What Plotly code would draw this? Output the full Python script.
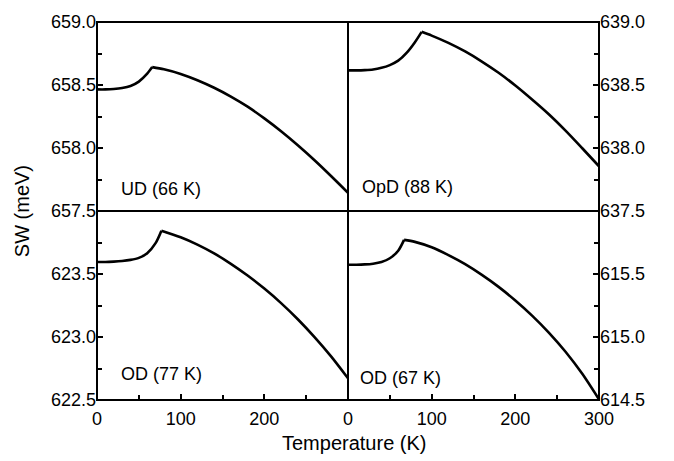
import plotly.graph_objects as go

# Spectral weight SW (meV) versus temperature (K) for four samples.
# Panels: UD (66 K), OpD (88 K), OD (77 K), OD (67 K)

temp_ud = [0, 10, 20, 30, 40, 50, 60, 66, 80, 100, 120, 140, 160, 180, 200, 220, 240, 260, 280, 300]
sw_ud = [658.465, 658.465, 658.468, 658.476, 658.492, 658.527, 658.590, 658.642, 658.625, 658.588,
         658.538, 658.478, 658.408, 658.328, 658.235, 658.133, 658.022, 657.903, 657.776, 657.645]

temp_opd = [0, 10, 20, 30, 40, 50, 60, 70, 80, 88, 100, 120, 140, 160, 180, 200, 220, 240, 260, 280, 300]
sw_opd = [638.616, 638.616, 638.618, 638.623, 638.636, 638.658, 638.693, 638.755, 638.840, 638.922, 638.892,
          638.834, 638.766, 638.686, 638.597, 638.496, 638.385, 638.268, 638.138, 637.998, 637.855]

temp_od77 = [0, 10, 20, 30, 40, 50, 60, 70, 77, 100, 120, 140, 160, 180, 200, 220, 240, 260, 280, 300]
sw_od77 = [623.595, 623.595, 623.598, 623.603, 623.612, 623.628, 623.665, 623.745, 623.844, 623.791,
           623.733, 623.663, 623.581, 623.488, 623.384, 623.269, 623.141, 622.999, 622.844, 622.672]

temp_od67 = [0, 10, 20, 30, 40, 50, 60, 67, 80, 100, 120, 140, 160, 180, 200, 220, 240, 260, 280, 300]
sw_od67 = [615.574, 615.574, 615.576, 615.582, 615.595, 615.625, 615.685, 615.771, 615.755, 615.712,
           615.650, 615.578, 615.493, 615.398, 615.290, 615.170, 615.035, 614.883, 614.708, 614.505]

# Transition temperatures (K) where each curve has its cusp
tc_values = [66, 88, 77, 67]
panel_labels = ["UD (66 K)", "OpD (88 K)", "OD (77 K)", "OD (67 K)"]

y_ticks_ud = [657.5, 658.0, 658.5, 659.0]
y_ticks_opd = [637.5, 638.0, 638.5, 639.0]
y_ticks_od77 = [622.5, 623.0, 623.5]
y_ticks_od67 = [614.5, 615.0, 615.5]
x_ticks_left = [0, 100, 200]
x_ticks_right = [0, 100, 200, 300]
x_minor = [50, 150, 250]

FONT = "Liberation Sans, Arial, sans-serif"
LINE = dict(color="black", width=2.6, shape="spline", smoothing=0.8)

fig = go.Figure()


def add_curve(temps, sw, tc, xa, ya):
    # split at the cusp so each smooth branch keeps the sharp corner at Tc
    k = temps.index(tc)
    for xs, ys in ((temps[:k + 1], sw[:k + 1]), (temps[k:], sw[k:])):
        fig.add_trace(go.Scatter(x=xs, y=ys, mode="lines", line=LINE, xaxis=xa, yaxis=ya,
                                 hoverinfo="x+y"))


add_curve(temp_ud, sw_ud, tc_values[0], "x3", "y3")
add_curve(temp_opd, sw_opd, tc_values[1], "x4", "y4")
add_curve(temp_od77, sw_od77, tc_values[2], "x", "y")
add_curve(temp_od67, sw_od67, tc_values[3], "x2", "y2")

tickfont = dict(family=FONT, size=18, color="black")
minor_style = dict(ticks="inside", ticklen=5, tickwidth=1.5, tickcolor="black")


def yminor(lo):
    return [lo + 0.25, lo + 0.75, lo + 1.25]


axis_common = dict(showline=False, showgrid=False, zeroline=False, tickfont=tickfont,
                   ticks="inside", ticklen=6, tickwidth=1.5, tickcolor="black")

bottom_x = dict(axis_common, range=[0, 300], ticklabelstandoff=6,
                minor=dict(minor_style, tickvals=x_minor))
top_x = dict(axis_common, range=[0, 300], ticks="", showticklabels=False)

fig.update_layout(
    width=674, height=461,
    margin=dict(l=97, r=75, t=15, b=61),
    paper_bgcolor="white", plot_bgcolor="white",
    showlegend=False,
    font=dict(family=FONT, color="black"),
    xaxis=dict(bottom_x, domain=[0, 0.5], anchor="y", tickvals=x_ticks_left),
    yaxis=dict(axis_common, domain=[0, 0.5], anchor="x", range=[622.5, 624.0],
               tickvals=y_ticks_od77, ticktext=[f"{v:.1f}" for v in y_ticks_od77],
               minor=dict(minor_style, tickvals=yminor(622.5))),
    xaxis2=dict(bottom_x, domain=[0.5, 1], anchor="y2", tickvals=x_ticks_right),
    yaxis2=dict(axis_common, domain=[0, 0.5], anchor="x2", side="right", range=[614.5, 616.0],
                tickvals=y_ticks_od67, ticktext=[f"{v:.1f}" for v in y_ticks_od67],
                minor=dict(minor_style, tickvals=yminor(614.5))),
    xaxis3=dict(top_x, domain=[0, 0.5], anchor="y3"),
    yaxis3=dict(axis_common, domain=[0.5, 1], anchor="x3", range=[657.5, 659.0],
                tickvals=y_ticks_ud, ticktext=[f"{v:.1f}" for v in y_ticks_ud],
                minor=dict(minor_style, tickvals=yminor(657.5))),
    xaxis4=dict(top_x, domain=[0.5, 1], anchor="y4"),
    yaxis4=dict(axis_common, domain=[0.5, 1], anchor="x4", side="right", range=[637.5, 639.0],
                tickvals=y_ticks_opd, ticktext=[f"{v:.1f}" for v in y_ticks_opd],
                minor=dict(minor_style, tickvals=yminor(637.5))),
)

# Frame: outer box plus the two dividing lines between the panels
frame = dict(color="black", width=2)
fig.add_shape(type="rect", xref="paper", yref="paper", x0=0, x1=1, y0=0, y1=1, line=frame, layer="above")
fig.add_shape(type="line", xref="paper", yref="paper", x0=0.5, x1=0.5, y0=0, y1=1, line=frame, layer="above")
fig.add_shape(type="line", xref="paper", yref="paper", x0=0, x1=1, y0=0.5, y1=0.5, line=frame, layer="above")

label_font = dict(family=FONT, size=18, color="black")
fig.add_annotation(x=26, y=657.675, xref="x3", yref="y3", text=panel_labels[0],
                   showarrow=False, xanchor="left", yanchor="middle", font=label_font)
fig.add_annotation(x=14, y=637.69, xref="x4", yref="y4", text=panel_labels[1],
                   showarrow=False, xanchor="left", yanchor="middle", font=label_font)
fig.add_annotation(x=26, y=622.705, xref="x", yref="y", text=panel_labels[2],
                   showarrow=False, xanchor="left", yanchor="middle", font=label_font)
fig.add_annotation(x=11.5, y=614.673, xref="x2", yref="y2", text=panel_labels[3],
                   showarrow=False, xanchor="left", yanchor="middle", font=label_font)

fig.add_annotation(x=0.512, y=-0.113, xref="paper", yref="paper", text="Temperature (K)",
                   showarrow=False, xanchor="center", yanchor="middle",
                   font=dict(family=FONT, size=20, color="black"))
fig.add_annotation(x=-0.149, y=0.5, xref="paper", yref="paper", text="SW (meV)", textangle=-90,
                   showarrow=False, xanchor="center", yanchor="middle",
                   font=dict(family=FONT, size=20, color="black"))

fig.write_html("out.html")
